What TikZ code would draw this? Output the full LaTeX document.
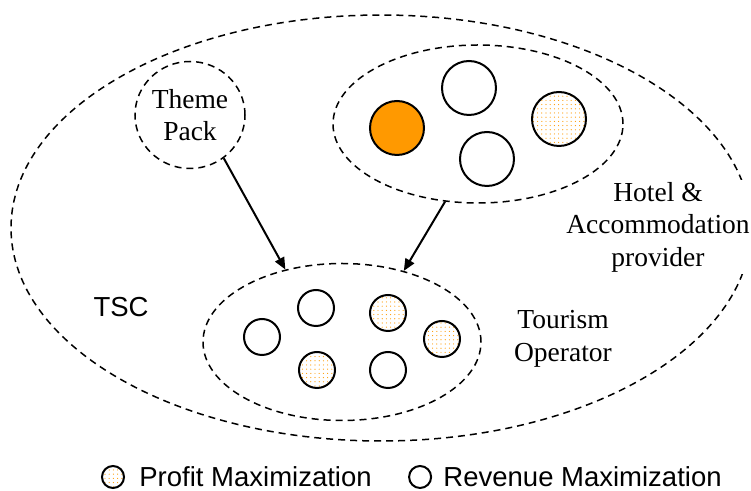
\documentclass[tikz,border=0pt]{standalone}
\usepackage{fontspec}
\setmainfont{Liberation Serif}
\setsansfont{Liberation Sans}
\definecolor{profit}{HTML}{FF9900}
\usetikzlibrary{positioning, shapes.geometric, arrows.meta, patterns.meta}
\newcommand{\figfont}{\fontsize{13.75}{16.25}\selectfont}

\begin{document}
\begin{tikzpicture}[
  x=0.5pt, y=-0.5pt,
  font=\figfont,
  group/.style={draw, ellipse, dash pattern=on 3.5pt off 2.5pt,
                line width=0.75pt, inner sep=0pt},
  agent/.style={draw, circle, line width=1pt, inner sep=0pt, minimum size=18pt},
  bigagent/.style={agent, minimum size=27pt},
  keyagent/.style={agent, minimum size=11pt},
  dotted fill/.style={pattern={Dots[distance=2.1pt, radius=0.3pt]}, pattern color=profit},
  sans/.style={font=\sffamily\figfont, inner sep=0pt},
  arrow/.style={-{Triangle[length=6pt, width=5pt]}, line width=1pt}
]
\useasboundingbox (0,0) rectangle (751,491);

% supply chain and its members
\node[group, minimum width=370pt, minimum height=213pt] (tsc) at (381,228) {};
\node[fill=white, align=center, inner sep=1pt] (hoteltxt) at (658,227) {Hotel \&\\Accommodation\\provider};
\node[group, minimum width=55pt, minimum height=53.5pt, align=center] (theme) at (190,115) {Theme\\Pack};
\node[group, minimum width=145pt, minimum height=79pt] (hotel) at (478,124) {};
\node[group, minimum width=139pt, minimum height=78.5pt] (tourism) at (342,342) {};

\node[align=center] (tourismtxt) at (563,339) {Tourism\\Operator};
\node[sans] (tsctxt) at (121,307) {TSC};

% hotels
\node[bigagent, fill=profit] (h1) at (397,128) {};
\node[bigagent] (h2) at (469,88) {};
\node[bigagent] (h3) at (487,159) {};
\node[bigagent, dotted fill] (h4) at (559,119) {};

% operators
\node[agent] (t1) at (262,337) {};
\node[agent] (t2) at (316,308) {};
\node[agent, dotted fill] (t3) at (388,313) {};
\node[agent, dotted fill] (t4) at (442,339) {};
\node[agent, dotted fill] (t5) at (317,370) {};
\node[agent] (t6) at (388,370) {};

\draw[arrow] (theme.-52) -- (tourism.128);
\draw[arrow] (hotel.247) -- (tourism.49);

% legend
\node[keyagent, dotted fill] (kprofit) at (113,477) {};
\node[sans, right=7pt of kprofit] (kprofittxt) {Profit Maximization};
\node[keyagent, right=18pt of kprofittxt] (krevenue) {};
\node[sans, right=5.5pt of krevenue] (krevenuetxt) {Revenue Maximization};
\end{tikzpicture}
\end{document}
